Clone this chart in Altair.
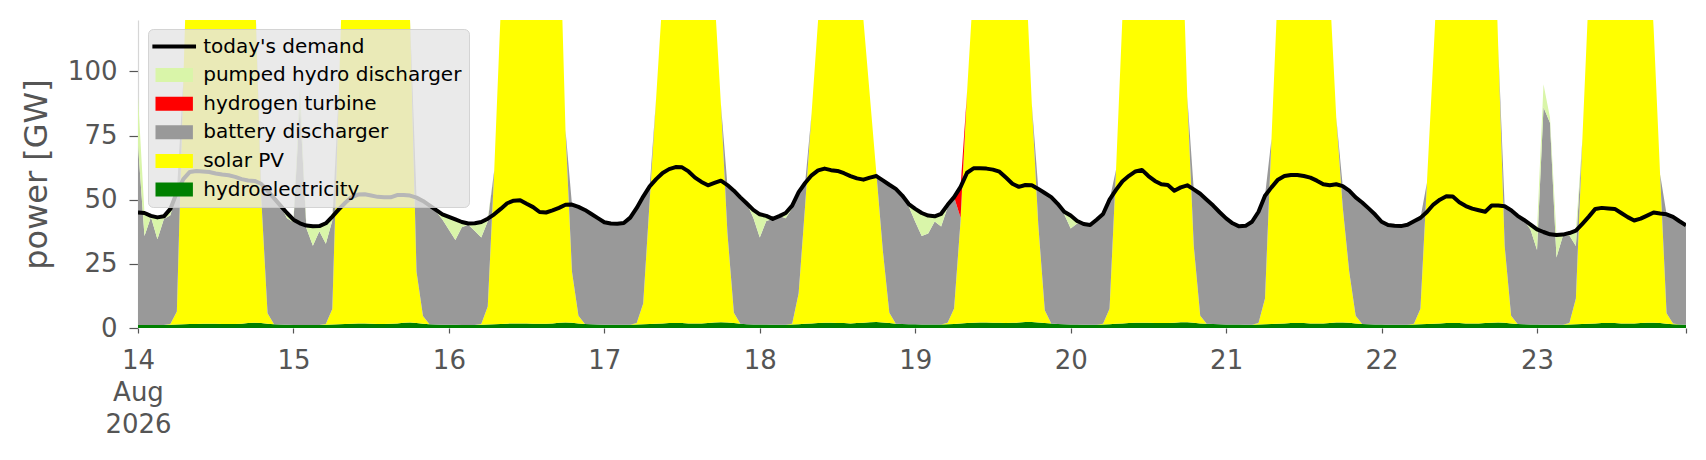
import altair as alt
import pandas as pd

# ---------------- data (hourly, 14 Aug 2026 00:00 .. 23 Aug 2026 23:00) ----------------
DAYS = ["2026-08-14", "2026-08-15", "2026-08-16", "2026-08-17", "2026-08-18",
        "2026-08-19", "2026-08-20", "2026-08-21", "2026-08-22", "2026-08-23"]

DEMAND = [
    [45, 44.8, 43.7, 43.1, 43.5, 46.4, 52.9, 58, 60.8, 61.2, 61, 60.8, 60.2, 59.8, 59.5, 58.9, 58, 57.5, 57.3, 56.2, 53.5, 50.6, 47.7, 44.8],
    [42.2, 40.8, 39.9, 39.6, 39.7, 40.8, 43.4, 46.2, 48.8, 51, 52, 52.1, 51.6, 51.1, 50.9, 50.9, 51.8, 51.8, 51.6, 50.8, 49.5, 47.8, 46, 44.3],
    [43.3, 42.3, 41.3, 40.7, 40.8, 41.3, 42.6, 44.3, 46.4, 48.6, 49.6, 49.8, 48.4, 47.1, 45.2, 45, 45.8, 46.8, 48, 48.1, 47.2, 46, 44.4, 42.8],
    [41.2, 40.7, 40.6, 40.9, 43, 46.8, 51.2, 55.2, 58, 60.4, 61.9, 62.7, 62.6, 61, 58.6, 56.9, 55.6, 56.5, 57.4, 55.7, 53.5, 50.9, 48.5, 46],
    [44.3, 43.7, 42.5, 43.6, 44.8, 47.7, 52.9, 56.5, 59.5, 61.4, 62.1, 61.5, 61.2, 60.3, 59.2, 58.3, 57.8, 58.6, 59.2, 57.5, 55.8, 54.2, 51.6, 48.3],
    [46.4, 44.8, 43.8, 43.5, 44.5, 48, 51, 55, 60.5, 62.2, 62.2, 62.1, 61.7, 60.9, 58.6, 56.2, 55, 55.7, 55.6, 54.2, 52.6, 51, 48.4, 45.3],
    [43.8, 41.7, 40.5, 40.1, 42.2, 44.4, 50, 53.8, 57.2, 59.3, 61, 61.6, 59.2, 57.3, 56, 55.7, 53.5, 54.8, 55.6, 54, 52.3, 50, 47.7, 45.1],
    [42.7, 40.8, 39.6, 39.8, 41.4, 45.3, 51.5, 54.8, 57.8, 59.2, 59.6, 59.6, 59.2, 58.6, 57.4, 56, 55.6, 56, 55.3, 53.5, 50.9, 48.9, 46.6, 44.2],
    [41.4, 40.1, 39.8, 39.7, 40.2, 41.6, 42.9, 45.2, 48.1, 50, 51.3, 51.2, 49, 47.5, 46.5, 45.9, 45.3, 47.7, 47.7, 47.4, 45.9, 43.7, 42.1, 40.3],
    [38.4, 37.4, 36.5, 36.2, 36.4, 37, 37.9, 40.6, 43.4, 46.4, 46.8, 46.6, 46.4, 44.8, 43.2, 41.9, 42.6, 43.8, 45, 44.6, 44.3, 43.3, 41.6, 40],
]

HYDRO = [
    [1.2, 1.2, 1.2, 1.2, 1.2, 1.3, 1.4, 1.5, 1.6, 1.6, 1.7, 1.7, 1.7, 1.6, 1.6, 1.6, 1.7, 1.9, 2.0, 1.9, 1.7, 1.5, 1.4, 1.3],
    [1.2, 1.2, 1.2, 1.2, 1.2, 1.3, 1.4, 1.5, 1.6, 1.7, 1.8, 1.8, 1.7, 1.6, 1.6, 1.7, 1.8, 2.0, 2.1, 1.9, 1.7, 1.5, 1.4, 1.3],
    [1.3, 1.3, 1.2, 1.2, 1.2, 1.3, 1.4, 1.5, 1.6, 1.7, 1.8, 1.8, 1.8, 1.7, 1.7, 1.7, 1.8, 2.0, 2.1, 2.0, 1.8, 1.6, 1.5, 1.4],
    [1.3, 1.3, 1.3, 1.3, 1.3, 1.4, 1.5, 1.6, 1.7, 1.8, 1.9, 1.9, 1.9, 1.8, 1.8, 1.8, 1.9, 2.1, 2.2, 2.1, 1.9, 1.7, 1.5, 1.4],
    [1.4, 1.4, 1.3, 1.3, 1.3, 1.4, 1.5, 1.7, 1.8, 1.9, 2.0, 2.0, 1.9, 1.9, 1.8, 1.9, 2.0, 2.2, 2.3, 2.1, 1.9, 1.7, 1.6, 1.5],
    [1.5, 1.4, 1.4, 1.4, 1.4, 1.5, 1.6, 1.8, 1.9, 2.0, 2.1, 2.1, 2.0, 2.0, 1.9, 2.0, 2.1, 2.3, 2.3, 2.1, 1.9, 1.8, 1.6, 1.5],
    [1.4, 1.4, 1.3, 1.3, 1.3, 1.4, 1.5, 1.7, 1.8, 1.9, 2.0, 2.0, 2.0, 1.9, 1.9, 1.9, 2.0, 2.2, 2.2, 2.0, 1.8, 1.7, 1.6, 1.5],
    [1.4, 1.4, 1.4, 1.3, 1.3, 1.4, 1.5, 1.6, 1.7, 1.8, 1.9, 1.9, 1.9, 1.8, 1.8, 1.8, 1.9, 2.1, 2.1, 2.0, 1.8, 1.6, 1.5, 1.4],
    [1.4, 1.3, 1.3, 1.3, 1.3, 1.4, 1.5, 1.6, 1.7, 1.8, 1.9, 1.9, 1.9, 1.8, 1.8, 1.8, 1.9, 2.0, 2.1, 2.0, 1.8, 1.6, 1.5, 1.4],
    [1.4, 1.3, 1.3, 1.3, 1.3, 1.4, 1.5, 1.6, 1.7, 1.8, 1.9, 1.9, 1.9, 1.8, 1.8, 1.8, 1.9, 2.0, 2.0, 1.9, 1.7, 1.5, 1.4, 1.3],
]

SOLAR = [
    [0, 0, 0, 0, 0, 0.3, 5, 95, 180, 230, 260, 275, 280, 272, 255, 228, 195, 160, 135, 50, 4, 0, 0, 0],
    [0, 0, 0, 0, 0, 0.3, 6, 90, 170, 225, 255, 270, 272, 265, 250, 225, 195, 160, 118, 20, 3, 0, 0, 0],
    [0, 0, 0, 0, 0, 0.3, 7, 60, 122, 180, 215, 235, 245, 245, 235, 220, 195, 165, 75, 20, 3, 0, 0, 0],
    [0, 0, 0, 0, 0, 0.5, 8, 48, 88, 128, 180, 220, 245, 255, 250, 230, 200, 128, 85, 35, 4, 0, 0, 0],
    [0, 0, 0, 0, 0, 0.3, 12, 46, 82, 118, 160, 200, 225, 235, 225, 190, 118, 88, 58, 28, 4, 0, 0, 0],
    [0, 0, 0, 0, 0, 0.5, 6, 40, 90, 132, 175, 210, 225, 220, 200, 175, 155, 140, 85, 38, 5, 0, 0, 0],
    [0, 0, 0, 0, 0, 0.3, 6, 60, 120, 170, 210, 235, 245, 240, 225, 205, 190, 165, 88, 30, 3, 0, 0, 0],
    [0, 0, 0, 0, 0, 0.5, 10, 72, 132, 185, 220, 240, 245, 235, 215, 185, 130, 80, 45, 20, 3, 0, 0, 0],
    [0, 0, 0, 0, 0, 0.3, 6, 55, 104, 155, 195, 220, 230, 225, 215, 205, 200, 190, 108, 30, 3, 0, 0, 0],
    [0, 0, 0, 0, 0, 0.5, 10, 72, 130, 180, 215, 230, 235, 225, 205, 185, 170, 160, 115, 58, 4, 0.3, 0, 0],
]

BATTERY = [
    [70, 34.6, 42, 33.4, 41.3, 42.3, 46.5, 0, 0, 0, 0, 0, 0, 0, 0, 0, 0, 0, 0, 4.3, 47.8, 49.1, 46.3, 41.5],
    [40, 85.5, 37.7, 30.8, 36.5, 31.2, 34.5, 0, 0, 0, 0, 0, 0, 0, 0, 0, 0, 0, 0, 28.9, 44.8, 46.3, 44.1, 41],
    [37, 33, 38.1, 39, 36.6, 33.7, 33.2, 0, 0, 0, 0, 0, 0, 0, 0, 0, 0, 0, 0, 26.1, 42.4, 44.4, 42.9, 41.4],
    [39.9, 39.4, 39.3, 39.6, 41.7, 44.9, 41.7, 5.6, 0, 0, 0, 0, 0, 0, 0, 0, 0, 0, 0, 18.6, 47.6, 49.2, 47, 41.6],
    [33.9, 40.3, 41.2, 42.3, 41.5, 45, 39.4, 8.8, 0, 0, 0, 0, 0, 0, 0, 0, 0, 0, 0, 27.4, 49.9, 52.5, 50, 45.8],
    [39.9, 34.4, 35.4, 40.1, 38.1, 45, 43.4, 1.2, 0, 0, 0, 0, 0, 0, 0, 0, 0, 0, 0, 14.1, 45.7, 49.2, 46.8, 42.8],
    [37.4, 39.3, 39.2, 38.8, 40.9, 42.7, 42.5, 0, 0, 0, 0, 0, 0, 0, 0, 0, 0, 0, 0, 22, 47.5, 48.3, 46.1, 43.6],
    [41.3, 39.4, 38.2, 38.5, 40.1, 43.4, 40, 0, 0, 0, 0, 0, 0, 0, 0, 0, 0, 0, 8.2, 31.5, 46.1, 47.3, 45.1, 42.8],
    [40, 38.8, 38.5, 38.4, 38.9, 39.9, 35.4, 0, 0, 0, 0, 0, 0, 0, 0, 0, 0, 0, 0, 15.4, 41.1, 42.1, 40.6, 36.9],
    [29, 84.7, 78.7, 26.2, 34.6, 34.1, 20.4, 0, 0, 0, 0, 0, 0, 0, 0, 0, 0, 0, 0, 0, 38.6, 41.5, 40.2, 38.7],
]

HYDROGEN = [
    [0] * 24, [0] * 24, [0] * 24, [0] * 24, [0] * 24,
    [0, 0, 0, 0, 0, 0, 0, 12, 0, 0, 0, 0, 0, 0, 0, 0, 0, 0, 0, 0, 0, 0, 0, 0],
    [0] * 24, [0] * 24, [0] * 24, [0] * 24,
]

PUMPED = [
    [19, 9, 0.5, 8.5, 1, 2.5, 0, 0, 0, 0, 0, 0, 0, 0, 0, 0, 0, 0, 0, 0, 0, 0, 0, 2],
    [1, 7.4, 1, 7.6, 2, 8, 1.5, 0, 0, 0, 0, 0, 0, 0, 0, 0, 0, 0, 0, 0, 0, 0, 0.5, 2],
    [5, 8, 2, 0.5, 3, 6, 1, 0, 0, 0, 0, 0, 0, 0, 0, 0, 0, 0, 0, 0, 0, 0, 0, 0],
    [0, 0, 0, 0, 0, 0, 0, 0, 0, 0, 0, 0, 0, 0, 0, 0, 0, 0, 0, 0, 0, 0, 0, 3],
    [9, 2, 0, 0, 2, 1, 0, 0, 0, 0, 0, 0, 0, 0, 0, 0, 0, 0, 0, 0, 0, 0, 0, 1],
    [5, 9, 7, 2, 5, 1, 0, 0, 0, 0, 0, 0, 0, 0, 0, 0, 0, 0, 0, 0, 0, 0, 0, 1],
    [5, 1, 0, 0, 0, 0, 0, 0, 0, 0, 0, 0, 0, 0, 0, 0, 0, 0, 0, 0, 0, 0, 0, 0],
    [0] * 24,
    [0, 0, 0, 0, 0, 0, 0, 0, 0, 0, 0, 0, 0, 0, 0, 0, 0, 0, 0, 0, 0, 0, 0, 2],
    [8, 9, 2, 8.7, 0.5, 1, 6, 0, 0, 0, 0, 0, 0, 0, 0, 0, 0, 0, 0, 0, 0, 0, 0, 0],
]

LEGEND_ORDER = ["today's demand", "pumped hydro discharger", "hydrogen turbine",
                "battery discharger", "solar PV", "hydroelectricity"]
# first entry is drawn as a line by the overlaid line legend, so its box is transparent
FILL_COLORS = ["rgba(0,0,0,0)", "#d9f5a9", "#ff0000", "#999999", "#ffff00", "#008000"]
LINE_NAME = "today's demand"
LINE_COLOR = "#000000"

# stacking order, bottom -> top
STACK = [("hydroelectricity", HYDRO), ("solar PV", SOLAR), ("battery discharger", BATTERY),
         ("hydrogen turbine", HYDROGEN), ("pumped hydro discharger", PUMPED)]

# ---------------- tables ----------------
times = []
for day in DAYS:
    for h in range(24):
        times.append(f"{day}T{h:02d}:00:00")

area_rows = []
for k, (name, days) in enumerate(STACK):
    flat = [v for d in days for v in d]
    for t, v in zip(times, flat):
        area_rows.append({"time": t, "source": name, "power": v, "ord": k})
area_df = pd.DataFrame(area_rows)

demand_flat = [v for d in DEMAND for v in d]
line_df = pd.DataFrame({"time": times, "demand": demand_flat, "series": LINE_NAME})

# ---------------- chart ----------------
GRAY = "#555555"
FONT = "DejaVu Sans"

x_start = alt.DateTime(year=2026, month=8, date=14, hours=0)
x_end = alt.DateTime(year=2026, month=8, date=23, hours=23)
x_ticks = [alt.DateTime(year=2026, month=8, date=d, hours=0) for d in range(14, 24)] + [x_end]

x_scale = alt.Scale(domain=[x_start, x_end], nice=False)
y_scale = alt.Scale(domain=[0, 120], nice=False, zero=True)

x_axis = alt.Axis(
    values=x_ticks,
    labelExpr=("hours(datum.value) != 0 ? '' : (date(datum.value) == 14 ? "
               "['' + date(datum.value), timeFormat(datum.value, '%b'), timeFormat(datum.value, '%Y')] : "
               "'' + date(datum.value))"),
    title=None, grid=False, domain=False,
    tickSize=5, tickColor=GRAY, tickWidth=1.2,
    labelFontSize=26, labelColor=GRAY, labelFont=FONT,
    labelPadding=14, labelLineHeight=32, labelAlign="center", labelBaseline="top",
    labelOverlap=False, labelFlush=False,
)
y_axis = alt.Axis(
    values=[0, 25, 50, 75, 100], title="power [GW]",
    titleFontSize=32, titleColor=GRAY, titleFont=FONT, titleFontWeight="normal", titlePadding=14,
    labelFontSize=26, labelColor=GRAY, labelFont=FONT, labelPadding=12,
    tickSize=9, tickColor=GRAY, tickWidth=1.2, grid=False,
    domain=True, domainColor="#d6d6d6", domainWidth=1.2,
)

common_legend = dict(
    title=None, orient="none", legendX=10, legendY=9,
    padding=7.5, labelFontSize=20, labelFont=FONT, labelColor="#000000", labelLimit=600,
    symbolSize=243, symbolOffset=8.7, labelOffset=19, rowPadding=8.6,
)
area_legend = alt.Legend(
    fillColor="rgba(229,229,229,0.8)", strokeColor="rgba(204,204,204,0.8)", cornerRadius=5,
    symbolType="M-2.4,-0.9H2.4V0.9H-2.4Z", symbolStrokeWidth=0, symbolOpacity=1, zindex=1,
    **common_legend,
)
line_legend = alt.Legend(
    symbolType="M-2.8,0H2.8", symbolStrokeWidth=4, symbolOpacity=1, labelExpr="' '",
    zindex=2, **common_legend,
)

areas = alt.Chart(area_df).mark_area(clip=True, interpolate="linear").encode(
    x=alt.X("time:T", scale=x_scale, axis=x_axis),
    y=alt.Y("power:Q", stack="zero", scale=y_scale, axis=y_axis),
    color=alt.Color("source:N", scale=alt.Scale(domain=LEGEND_ORDER, range=FILL_COLORS), legend=area_legend),
    order=alt.Order("ord:Q", sort="ascending"),
)

line = alt.Chart(line_df).mark_line(strokeWidth=4, clip=True, strokeJoin="round").encode(
    x=alt.X("time:T", scale=x_scale),
    y=alt.Y("demand:Q", scale=y_scale),
    stroke=alt.Stroke("series:N", scale=alt.Scale(domain=[LINE_NAME], range=[LINE_COLOR]), legend=line_legend),
)

chart = alt.layer(areas, line).properties(
    width=1548, height=308,
    padding={"left": 12, "top": 12, "right": 5, "bottom": 5},
).configure(font=FONT).configure_view(strokeWidth=0)

chart.save("out.html", embed_options={"renderer": "svg", "actions": False})
